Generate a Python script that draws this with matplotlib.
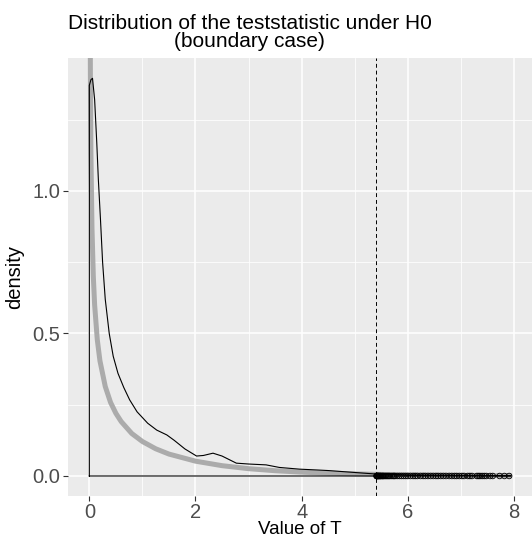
import matplotlib
matplotlib.use('Agg')
import matplotlib.pyplot as plt

dens_x = [0.0, 0.03, 0.06, 0.1, 0.14, 0.17, 0.21, 0.25, 0.3, 0.375, 0.45, 0.54, 0.65,
          0.76, 0.9, 1.0, 1.1, 1.27, 1.46, 1.6, 1.8, 2.02, 2.15, 2.33, 2.5, 2.77,
          3.0, 3.33, 3.58, 3.96, 4.3, 4.51, 4.95, 5.39, 6.0, 7.0, 7.95]
dens_y = [1.37, 1.39, 1.395, 1.32, 1.17, 1.04, 0.90, 0.75, 0.62, 0.50, 0.42, 0.36, 0.31,
          0.267, 0.225, 0.205, 0.185, 0.161, 0.144, 0.125, 0.095, 0.070, 0.072, 0.080,
          0.070, 0.045, 0.042, 0.039, 0.030, 0.024, 0.021, 0.019, 0.013, 0.007, 0.004,
          0.002, 0.001]

# theoretical mixture density (grey curve)
theo_x = [0.01, 0.02, 0.03, 0.05, 0.075, 0.1, 0.15, 0.2, 0.3, 0.4, 0.5, 0.6, 0.8, 1.0,
          1.25, 1.5, 2.0, 2.5, 3.0, 3.5, 4.0, 4.5, 5.0, 5.5, 6.0, 7.0, 7.95]
theo_y = [1.98, 1.40, 1.134, 0.870, 0.701, 0.600, 0.478, 0.404, 0.314, 0.258, 0.220,
          0.191, 0.149, 0.121, 0.0955, 0.0769, 0.052, 0.0362, 0.0257, 0.0185, 0.0135,
          0.0099, 0.0073, 0.0054, 0.0041, 0.0023, 0.0013]

crit = 5.41

# test statistics above the critical value
exceed = [5.41, 5.415, 5.42, 5.43, 5.435, 5.44, 5.45, 5.46, 5.47, 5.48, 5.49, 5.50,
          5.52, 5.53, 5.54, 5.56, 5.58, 5.60, 5.62, 5.64, 5.66, 5.69, 5.72, 5.74,
          5.76, 5.80, 5.84, 5.88, 5.92, 5.96, 6.00, 6.05, 6.10, 6.14, 6.18, 6.24,
          6.29, 6.33, 6.38, 6.43, 6.48, 6.53, 6.57, 6.62, 6.67, 6.72, 6.78, 6.83,
          6.88, 6.92, 6.97, 7.02, 7.06, 7.13, 7.17, 7.21, 7.30, 7.33, 7.36, 7.40,
          7.44, 7.48, 7.55, 7.60, 7.73, 7.82, 7.91]

fig = plt.figure(figsize=(5.32, 5.35), dpi=100)
ax = fig.add_axes([0.127, 0.073, 0.873, 0.819])
ax.set_facecolor('#EBEBEB')
for s in ax.spines.values():
    s.set_visible(False)

ax.set_xticks([0, 2, 4, 6, 8])
ax.set_xticks([1, 3, 5, 7], minor=True)
ax.set_yticks([0.0, 0.5, 1.0])
ax.set_yticklabels(['0.0', '0.5', '1.0'])
ax.set_yticks([0.25, 0.75, 1.25], minor=True)
ax.grid(which='major', color='white', linewidth=1.1)
ax.grid(which='minor', color='white', linewidth=0.55)
ax.set_axisbelow(True)
ax.tick_params(which='major', length=3.5, width=0.8, color='#333333',
               labelsize=14.5, labelcolor='#4D4D4D', pad=1.5)
ax.tick_params(which='minor', length=0)

# density outline like geom_density
px = [dens_x[0]] + dens_x + [dens_x[-1], dens_x[0]]
py = [0] + dens_y + [0, 0]
ax.plot(px, py, color='black', linewidth=0.8, zorder=3)

ax.plot(theo_x, theo_y, color='#ABABAB', linewidth=3.6, zorder=2, solid_capstyle='butt')

ax.axvline(crit, color='black', linestyle=(0, (4, 3)), linewidth=0.7, zorder=4)

ax.scatter(exceed, [0] * len(exceed), s=16, facecolors='none', edgecolors='black',
           linewidths=0.6, zorder=5)

ax.set_xlim(-0.41, 8.34)
ax.set_ylim(-0.07, 1.467)

ax.set_xlabel('Value of T', fontsize=13.5, labelpad=-1)
ax.set_ylabel('density', fontsize=14.5, labelpad=6)

fig.text(0.127, 0.905, 'Distribution of the teststatistic under H0\n(boundary case)',
         ha='left', va='bottom', multialignment='center', fontsize=15,
         linespacing=0.95, family='Liberation Sans')
for t in ax.get_xticklabels() + ax.get_yticklabels():
    t.set_family('Liberation Sans')
ax.xaxis.label.set_family('Liberation Sans')
ax.yaxis.label.set_family('Liberation Sans')

fig.savefig('out.png', dpi=100)
